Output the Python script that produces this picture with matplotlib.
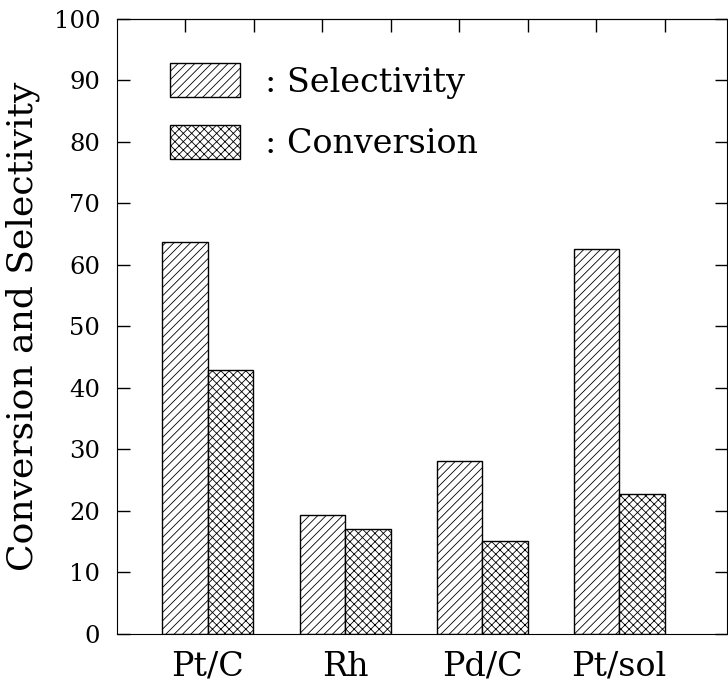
import numpy as np
import matplotlib.pyplot as plt

catalysts = ['Pt/C', 'Rh', 'Pd/C', 'Pt/sol']
selectivity = [63.8, 19.3, 28.1, 62.6]
conversion = [42.9, 17.0, 15.1, 22.8]
yticks = np.arange(0, 101, 10)

plt.rcParams['font.family'] = 'DejaVu Serif'
plt.rcParams['hatch.linewidth'] = 0.6

fig = plt.figure(figsize=(7.28, 6.88), dpi=100)
ax = fig.add_axes([0.1607, 0.0785, 0.838, 0.894])

x = np.arange(1, len(catalysts) + 1)
w = 0.332
ax.bar(x - w / 2, selectivity, w, facecolor='white', edgecolor='black',
       hatch='////', lw=1.0, label=': Selectivity')
ax.bar(x + w / 2, conversion, w, facecolor='white', edgecolor='black',
       hatch='xxxx', lw=1.0, label=': Conversion')

ax.set_xlim(0.336, 4.788)
ax.set_ylim(0, 100)
ax.set_xticks(x)
ax.set_xticklabels(catalysts, fontsize=24)
ax.tick_params(axis='x', length=0, pad=12)
ax.set_yticks(yticks)
ax.tick_params(axis='y', direction='in', length=9, width=1, labelsize=17.5,
               right=True, pad=12)
ax.set_ylabel('Conversion and Selectivity', fontsize=26, labelpad=10)

top = ax.secondary_xaxis('top')
top.set_xticks(x[0] - w / 2 + 0.5 * np.arange(8))
top.tick_params(direction='in', length=9, width=1, labeltop=False)

ax.legend(loc='upper left', bbox_to_anchor=(0.087, 0.928), frameon=False,
          fontsize=24, handlelength=2.1, handleheight=1.2, labelspacing=0.78,
          handletextpad=0.75, borderpad=0, borderaxespad=0)

fig.savefig('out.png', dpi=100)
